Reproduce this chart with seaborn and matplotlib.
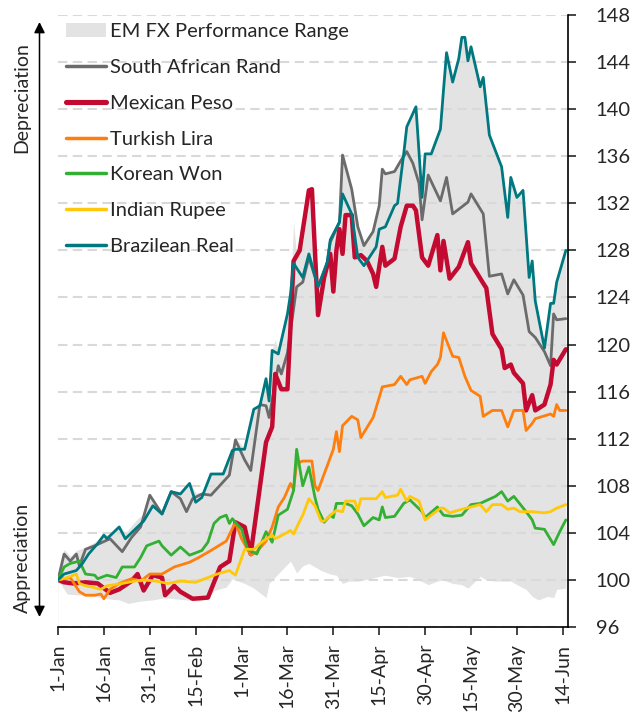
import numpy as np
import pandas as pd
import seaborn as sns
import matplotlib.pyplot as plt
import matplotlib.dates as mdates
from matplotlib.lines import Line2D
from matplotlib.patches import Patch

# day offsets from 1-Jan-2020, index levels (1-Jan = 100)
zar_days = [0, 2, 4, 6, 7, 9, 12, 17, 21, 24, 27, 30, 34, 37, 40, 42, 44, 47, 50, 56, 58, 61, 63, 66, 68, 69, 72, 73, 75, 78, 80,
            82, 85, 88, 89, 92, 93, 96, 98, 100, 103, 105, 106, 107, 110, 112, 114, 116, 118, 119, 121, 125, 127, 129, 132, 134,
            135, 139, 141, 145, 147, 149, 152, 154, 156, 159, 161, 162, 163, 166]
zar_vals = [100, 102.2, 101.6, 102.2, 101.2, 102.6, 102.9, 103.5, 102.4, 103.6, 104.5, 107.2, 105.6, 107.5, 106.9, 105.8, 106.9,
            107.3, 107.2, 108.9, 111.9, 110.2, 109.3, 114.9, 114.8, 113.8, 118.2, 117.5, 119.3, 124.9, 125.3, 127.4, 124.9, 126.9,
            128.7, 130.4, 136.1, 133.2, 130.0, 128.4, 129.6, 131.8, 134.9, 134.5, 134.7, 135.6, 136.4, 135.4, 133.7, 130.6, 134.4,
            132.2, 134.2, 131.1, 131.7, 132.1, 132.8, 131.1, 125.8, 126.0, 124.3, 125.5, 124.2, 121.1, 120.6, 119.4, 118.2, 122.6,
            122.1, 122.2]

mxn_days = [0, 2, 5, 9, 13, 17, 20, 24, 26, 28, 31, 34, 35, 38, 40, 44, 49, 51, 53, 56, 58, 61, 63, 68, 70, 71, 73, 75, 76, 77,
            79, 82, 83, 85, 87, 89, 90, 91, 92, 93, 94, 96, 97, 99, 101, 103, 104, 106, 107, 110, 112, 114, 116, 117, 119, 121,
            124, 125, 126, 128, 131, 134, 135, 139, 140, 142, 145, 146, 148, 149, 152, 153, 155, 156, 159, 161, 162, 163, 166]
mxn_vals = [100, 99.8, 99.7, 99.8, 99.7, 98.9, 99.2, 99.9, 100.5, 99.1, 100.4, 100.2, 98.7, 99.5, 99.0, 98.4, 98.5, 99.8, 101.1,
            101.6, 104.9, 104.5, 102.2, 111.7, 113.0, 117.5, 116.2, 116.2, 121.5, 127.1, 128.0, 133.1, 133.2, 122.5, 125.7, 127.7,
            124.5, 128.0, 129.8, 127.7, 131.0, 131.0, 127.4, 127.6, 127.1, 126.0, 124.9, 128.3, 126.7, 127.3, 130.0, 131.8, 131.8,
            131.4, 127.4, 126.7, 129.3, 126.3, 128.8, 125.6, 126.6, 128.7, 126.9, 125.2, 124.8, 120.9, 119.6, 118.0, 118.3, 117.6,
            116.7, 114.4, 115.7, 114.4, 114.9, 116.6, 118.7, 118.3, 119.6]

try_days = [0, 4, 7, 9, 12, 14, 15, 17, 20, 24, 27, 30, 34, 38, 43, 46, 50, 55, 58, 60, 63, 65, 68, 70, 72, 74, 76, 77, 78, 80,
            83, 84, 85, 90, 91, 92, 93, 96, 98, 99, 103, 105, 106, 110, 112, 114, 115, 119, 120, 122, 124, 125, 126, 129, 131,
            133, 135, 138, 139, 142, 145, 147, 149, 152, 153, 155, 156, 161, 162, 163, 164, 166]
try_vals = [100, 100.2, 99.0, 98.7, 98.7, 98.8, 98.4, 99.2, 99.7, 100.1, 99.9, 100.5, 100.5, 101.1, 101.5, 101.9, 102.5, 103.3,
            104.9, 103.5, 102.1, 102.4, 103.3, 104.5, 106.2, 107.0, 108.2, 107.7, 109.9, 110.1, 110.1, 108.0, 107.6, 111.1, 112.6,
            110.9, 113.1, 113.9, 113.6, 112.1, 113.8, 115.5, 116.4, 116.6, 117.3, 116.6, 117.0, 117.3, 116.7, 117.7, 118.3, 118.9,
            121.0, 119.0, 118.9, 117.3, 116.1, 115.6, 113.9, 114.4, 114.4, 113.0, 114.4, 114.4, 112.7, 113.3, 113.7, 114.1, 113.9,
            114.9, 114.4, 114.4]

krw_days = [0, 2, 4, 7, 9, 12, 13, 16, 19, 21, 25, 27, 29, 33, 34, 37, 40, 43, 47, 49, 51, 53, 55, 56, 57, 60, 62, 65, 68, 70,
            72, 75, 77, 78, 80, 82, 84, 85, 87, 89, 90, 91, 94, 96, 98, 100, 103, 105, 106, 107, 110, 113, 115, 119, 120, 124,
            126, 129, 132, 135, 138, 143, 145, 147, 149, 153, 155, 156, 159, 162, 164, 166]
krw_vals = [100, 101.1, 101.4, 101.6, 100.5, 100.4, 100.1, 100.4, 100.2, 101.1, 101.1, 101.9, 102.9, 103.3, 102.9, 102.1, 102.8,
            102.1, 102.5, 103.2, 104.8, 105.3, 105.5, 104.8, 105.2, 104.3, 102.6, 102.2, 104.1, 103.2, 105.5, 106.0, 107.6, 111.1,
            108.0, 109.6, 107.0, 106.0, 104.9, 105.5, 105.3, 106.5, 106.5, 106.3, 105.6, 104.6, 105.3, 105.1, 106.2, 105.3, 105.4,
            106.5, 106.8, 105.8, 105.3, 106.2, 105.5, 105.4, 105.5, 106.4, 106.5, 107.1, 107.5, 106.7, 107.1, 105.8, 105.1, 104.4,
            104.3, 103.0, 104.1, 105.1]

inr_days = [0, 3, 6, 7, 9, 11, 14, 16, 21, 25, 28, 32, 36, 40, 45, 49, 52, 56, 58, 61, 64, 67, 70, 71, 74, 76, 77, 79, 80, 82,
            84, 86, 87, 89, 91, 93, 94, 97, 98, 99, 104, 106, 107, 111, 112, 114, 115, 118, 120, 125, 126, 128, 132, 138, 140,
            142, 145, 147, 149, 151, 155, 159, 161, 163, 166]
inr_vals = [100, 100.2, 100.5, 99.7, 99.5, 99.4, 99.2, 99.5, 99.7, 99.9, 100.0, 99.9, 99.7, 99.9, 99.8, 100.2, 100.5, 100.8, 100.4,
            102.6, 102.6, 103.3, 103.8, 103.5, 103.9, 104.2, 103.9, 105.0, 105.5, 106.9, 106.3, 105.0, 105.0, 105.5, 105.9, 105.8,
            106.7, 106.7, 105.9, 106.9, 106.9, 107.5, 107.0, 107.2, 107.7, 106.7, 107.1, 106.7, 105.1, 106.1, 106.1, 105.7, 106.0,
            106.4, 105.8, 106.4, 106.4, 106.0, 106.1, 105.8, 105.8, 105.7, 105.8, 106.1, 106.4]

brl_days = [0, 2, 6, 8, 10, 13, 15, 16, 20, 22, 26, 28, 31, 34, 37, 40, 43, 45, 47, 50, 54, 57, 58, 61, 64, 66, 68, 69, 70, 72,
            75, 76, 77, 80, 82, 85, 88, 89, 92, 93, 96, 98, 100, 104, 105, 107, 110, 111, 113, 114, 117, 119, 120, 122, 125, 126,
            127, 129, 131, 132, 133, 134, 135, 138, 139, 141, 145, 147, 148, 150, 152, 154, 155, 156, 159, 161, 162, 163, 166]
brl_vals = [100, 100.5, 100.8, 101.4, 102.2, 103.1, 103.8, 103.5, 104.5, 103.5, 104.5, 105.0, 106.3, 105.6, 107.5, 107.3, 108.2,
            106.6, 107.0, 109.0, 109.0, 111.0, 111.1, 111.1, 114.5, 114.8, 117.1, 115.2, 119.5, 119.2, 122.6, 124.3, 126.9, 125.7,
            127.7, 124.9, 127.0, 128.9, 130.4, 132.8, 131.1, 127.4, 126.7, 128.3, 129.8, 130.0, 131.8, 132.0, 136.2, 138.5, 140.2,
            132.5, 136.2, 136.2, 138.3, 141.6, 144.8, 142.3, 144.3, 146.1, 146.1, 144.1, 145.3, 141.9, 142.7, 137.8, 135.1, 130.8,
            134.2, 132.5, 133.1, 125.7, 127.1, 123.7, 119.7, 123.5, 123.5, 125.3, 128.0]

# EM FX performance range (upper and lower edge)
hi_days = [0, 2, 4, 6, 9, 12, 15, 17, 20, 22, 26, 28, 30, 31, 34, 37, 40, 43, 45, 47, 50, 54, 57, 58, 61, 64, 66, 68, 69, 70,
           71, 72, 75, 76, 77, 78, 79, 80, 82, 83, 85, 88, 89, 92, 93, 96, 98, 100, 103, 105, 106, 107, 110, 112, 113, 114, 117,
           119, 120, 122, 125, 126, 127, 129, 131, 132, 133, 134, 135, 138, 139, 141, 145, 147, 148, 150, 152, 154, 155, 156, 159,
           161, 162, 163, 166]
hi_vals = [100, 102.6, 102.0, 102.5, 102.8, 103.2, 103.9, 103.8, 104.6, 104.0, 105.2, 105.6, 107.3, 106.6, 105.8, 107.6, 107.4,
           108.3, 107.4, 107.4, 109.1, 109.2, 111.2, 112.0, 111.2, 114.6, 115.0, 117.2, 116.5, 119.6, 120.4, 119.5, 122.7, 124.4,
           130.4, 127.5, 128.1, 128.5, 133.1, 133.2, 125.0, 127.1, 128.9, 130.5, 136.1, 133.2, 130.0, 128.4, 129.6, 131.8, 134.9,
           134.5, 134.7, 135.6, 136.3, 138.5, 140.2, 132.6, 136.2, 136.2, 138.3, 141.6, 144.8, 142.3, 144.3, 146.1, 146.1, 144.1,
           145.3, 141.9, 142.7, 137.8, 135.1, 130.8, 134.2, 132.5, 133.1, 125.7, 127.1, 123.7, 120.0, 123.5, 123.5, 125.3, 128.0]
lo_days = [0, 3, 8, 12, 16, 20, 23, 27, 31, 35, 38, 42, 46, 49, 51, 55, 57, 61, 64, 68, 69, 73, 76, 78, 80, 82, 84, 86, 89, 91,
           93, 95, 98, 102, 105, 107, 111, 115, 118, 121, 124, 126, 129, 132, 134, 136, 138, 140, 143, 148, 150, 153, 155, 157,
           160, 162, 163, 166]
lo_vals = [100, 98.8, 98.7, 98.6, 98.4, 98.3, 98.0, 98.2, 98.3, 98.5, 98.4, 98.3, 98.2, 98.4, 99.1, 99.4, 100.1, 99.7, 99.3, 98.5,
           99.7, 100.8, 101.6, 100.6, 101.2, 101.4, 101.1, 100.8, 100.5, 100.4, 99.7, 99.9, 99.9, 100.1, 100.3, 100.4, 100.2,
           100.3, 100.0, 99.6, 99.9, 100.0, 99.7, 99.6, 99.3, 99.8, 100.3, 100.0, 99.9, 99.9, 99.6, 99.2, 98.6, 98.3, 98.6, 98.5,
           99.2, 99.3]

currencies = ['South African Rand', 'Mexican Peso', 'Turkish Lira', 'Korean Won', 'Indian Rupee', 'Brazilean Real']
series = [(zar_days, zar_vals), (mxn_days, mxn_vals), (try_days, try_vals),
          (krw_days, krw_vals), (inr_days, inr_vals), (brl_days, brl_vals)]
colors = ['#6b6b6b', '#c30b32', '#ff7f0e', '#33b033', '#ffc80a', '#007880']
widths = [2.0, 3.2, 2.0, 2.0, 2.0, 2.0]
band_color = '#e3e3e3'

start = pd.Timestamp('2020-01-01')
def to_dates(days):
    return start + pd.to_timedelta(days, unit='D')

sns.set_style('white')
plt.rcParams['font.family'] = ['Lato', 'DejaVu Sans']

fig = plt.figure(figsize=(6.42, 7.19), dpi=100)
ax = fig.add_axes([58 / 642, 1 - 627 / 719, 510 / 642, 612 / 719])

ax.fill_between(to_dates(hi_days), hi_vals, 96, color=band_color, lw=0, zorder=0.2)
ax.fill_between(to_dates(lo_days), lo_vals, 96, color='white', lw=0, zorder=0.3)

for name, (d, v), c, w in zip(currencies, series, colors, widths):
    sns.lineplot(x=to_dates(d), y=v, color=c, linewidth=w, ax=ax)

ax.set_ylim(96, 148)
ax.set_yticks(np.arange(96, 149, 4))
ax.set_xlim(start, start + pd.Timedelta(days=166.7))
ax.set_xticks(to_dates(np.arange(0, 166, 15)))
ax.xaxis.set_major_formatter(mdates.DateFormatter('%-d-%b'))
ax.yaxis.tick_right()
ax.tick_params(axis='x', rotation=90, labelsize=14, direction='out', length=6, width=1.2, pad=6, bottom=True)
ax.tick_params(axis='y', labelsize=14.5, direction='out', length=6, width=1.2, pad=14, right=True, left=False)
ax.set_axisbelow(True)
ax.grid(axis='y', color='#d9d9d9', linestyle=(0, (4.5, 2.6)), linewidth=1.5)
ax.grid(axis='x', visible=False)
for s in ['left', 'top']:
    ax.spines[s].set_visible(False)
for s in ['bottom', 'right']:
    ax.spines[s].set_color('black')
    ax.spines[s].set_linewidth(1.2)
ax.set_xlabel('')
ax.set_ylabel('')

handles = [Patch(facecolor=band_color, edgecolor='none', label='EM FX Performance Range')]
for name, c, w in zip(currencies, colors, widths):
    handles.append(Line2D([0], [0], color=c, linewidth=w + 0.5, label=name))
ax.legend(handles=handles, loc='upper left', bbox_to_anchor=(0.0, 1.0), frameon=False, fontsize=14.5,
          handlelength=2.0, handletextpad=0.2, labelspacing=0.93, borderpad=0.15, borderaxespad=0.25)

# depreciation / appreciation arrow on the left
ax.annotate('', xy=(39.5, 719 - 22), xytext=(39.5, 719 - 617), xycoords='figure pixels', textcoords='figure pixels',
            arrowprops=dict(arrowstyle='<|-|>', color='black', lw=1.1, mutation_scale=16, shrinkA=0, shrinkB=0))
fig.text(22 / 642, 1 - 98 / 719, 'Depreciation', rotation=90, ha='center', va='center', fontsize=14)
fig.text(22 / 642, 1 - 558 / 719, 'Appreciation', rotation=90, ha='center', va='center', fontsize=14)

fig.savefig('out.png', dpi=100)
